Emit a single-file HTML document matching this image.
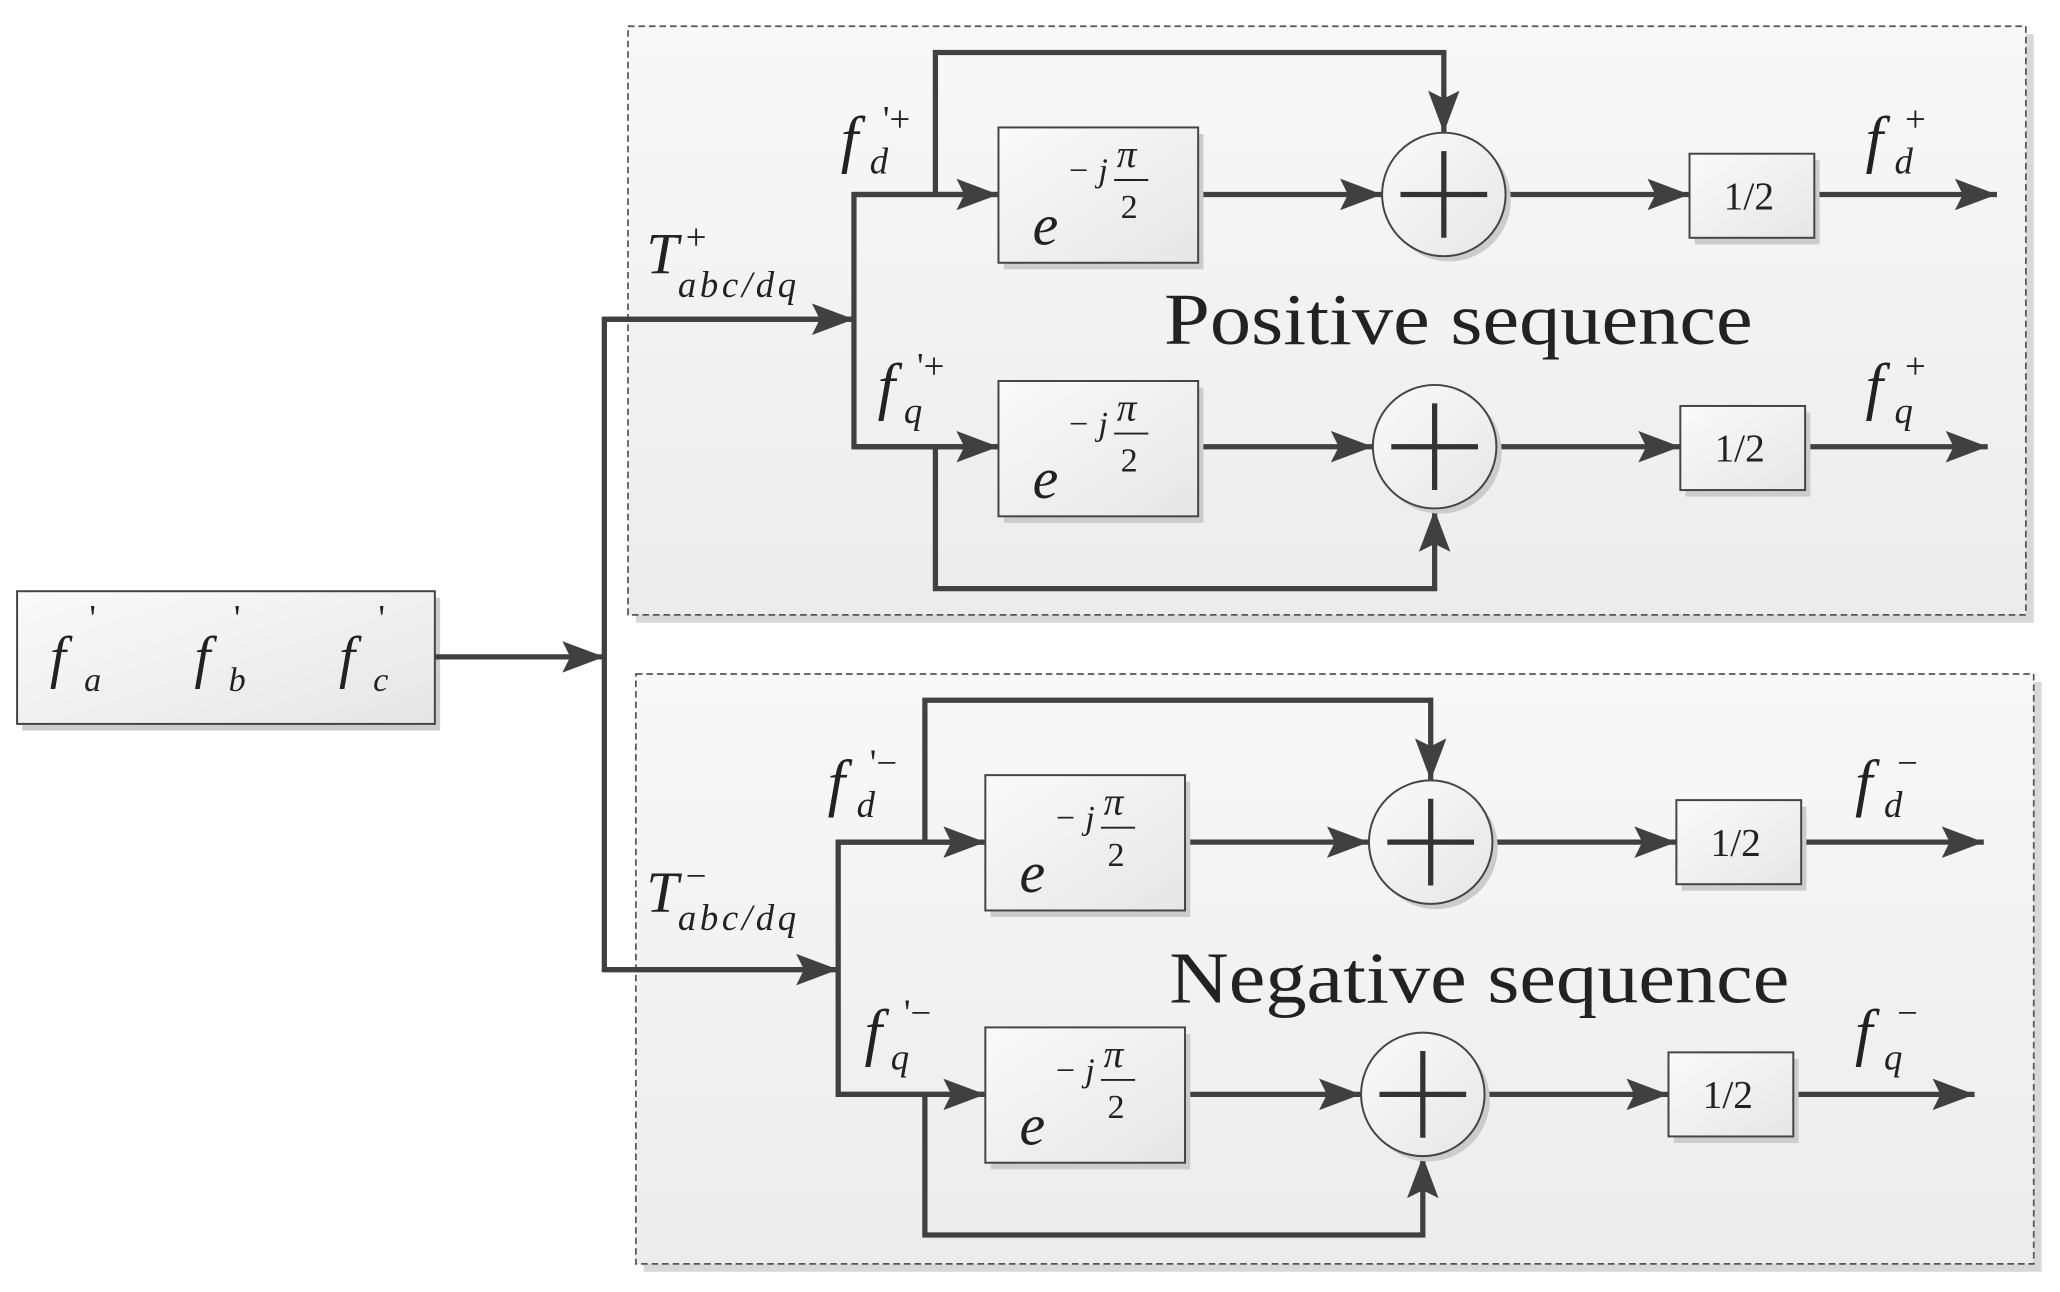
<!DOCTYPE html>
<html><head><meta charset="utf-8"><style>
html,body{margin:0;padding:0;background:#fff}
svg{display:block}
text{font-family:"Liberation Serif",serif;fill:#222}
.i{font-style:italic}
</style></head><body>
<svg width="2060" height="1292" viewBox="0 0 1568 983.4" preserveAspectRatio="none" xmlns="http://www.w3.org/2000/svg">
<defs>
<linearGradient id="g" x1="0" y1="0" x2="1" y2="1"><stop offset="0" stop-color="#fafafa"/><stop offset="1" stop-color="#e6e6e6"/></linearGradient>
<linearGradient id="gb" x1="0" y1="0" x2="0" y2="1"><stop offset="0" stop-color="#f8f8f8"/><stop offset="1" stop-color="#ececec"/></linearGradient>
<marker id="a" viewBox="0 0 32 24" refX="32" refY="12" markerWidth="32" markerHeight="24" markerUnits="userSpaceOnUse" orient="auto"><path d="M0,0 L32,12 L0,24 L6,12 Z" fill="#404040"/></marker>
</defs>
<rect x="484" y="26" width="1064" height="448" fill="#d8d8d8"/>
<rect x="478" y="20" width="1064" height="448" fill="url(#gb)" stroke="#555" stroke-width="1.3" stroke-dasharray="5,3"/>
<rect x="490" y="519" width="1064" height="449" fill="#d8d8d8"/>
<rect x="484" y="513" width="1064" height="449" fill="url(#gb)" stroke="#555" stroke-width="1.3" stroke-dasharray="5,3"/>
<rect x="17" y="455" width="318" height="101" fill="#ccc"/>
<rect x="13" y="450" width="318" height="101" fill="url(#g)" stroke="#444" stroke-width="1.5"/>
<text class="i" font-size="44" x="38" y="515">f</text><text class="i" font-size="26" x="64" y="526">a</text><text font-size="28" x="68" y="480">'</text>
<text class="i" font-size="44" x="148" y="515">f</text><text class="i" font-size="26" x="174" y="526">b</text><text font-size="28" x="178" y="480">'</text>
<text class="i" font-size="44" x="258" y="515">f</text><text class="i" font-size="26" x="284" y="526">c</text><text font-size="28" x="288" y="480">'</text>
<g stroke="#404040" stroke-width="4" fill="none">
<line x1="331" y1="500" x2="460" y2="500" marker-end="url(#a)"/>
<polyline points="650,243 460,243 460,738 638,738" />
<line x1="460" y1="243" x2="650" y2="243" marker-end="url(#a)"/>
<line x1="460" y1="738" x2="638" y2="738" marker-end="url(#a)"/>
<polyline points="760,148 650,148 650,340 760,340"/>
<line x1="650" y1="148" x2="760" y2="148" marker-end="url(#a)"/>
<line x1="650" y1="340" x2="760" y2="340" marker-end="url(#a)"/>
<polyline points="712,148 712,40 1099,40 1099,101" marker-end="url(#a)"/>
<polyline points="712,340 712,448 1092,448 1092,388" marker-end="url(#a)"/>
<line x1="912" y1="148" x2="1052" y2="148" marker-end="url(#a)"/>
<line x1="1146" y1="148" x2="1286" y2="148" marker-end="url(#a)"/>
<line x1="1381" y1="148" x2="1520" y2="148" marker-end="url(#a)"/>
<line x1="912" y1="340" x2="1045" y2="340" marker-end="url(#a)"/>
<line x1="1139" y1="340" x2="1279" y2="340" marker-end="url(#a)"/>
<line x1="1374" y1="340" x2="1513" y2="340" marker-end="url(#a)"/>
<polyline points="750,641 638,641 638,833 750,833"/>
<line x1="638" y1="641" x2="750" y2="641" marker-end="url(#a)"/>
<line x1="638" y1="833" x2="750" y2="833" marker-end="url(#a)"/>
<polyline points="704,641 704,533 1089,533 1089,594" marker-end="url(#a)"/>
<polyline points="704,833 704,940 1083,940 1083,880" marker-end="url(#a)"/>
<line x1="903" y1="641" x2="1042" y2="641" marker-end="url(#a)"/>
<line x1="1136" y1="641" x2="1276" y2="641" marker-end="url(#a)"/>
<line x1="1371" y1="641" x2="1510" y2="641" marker-end="url(#a)"/>
<line x1="903" y1="833" x2="1036" y2="833" marker-end="url(#a)"/>
<line x1="1130" y1="833" x2="1270" y2="833" marker-end="url(#a)"/>
<line x1="1365" y1="833" x2="1503" y2="833" marker-end="url(#a)"/>
</g>
<g id="eb">
<rect x="764" y="102" width="152" height="103" fill="#ccc"/>
<rect x="760" y="97" width="152" height="103" fill="url(#g)" stroke="#444" stroke-width="1.5"/>
<text class="i" font-size="44" x="786" y="186">e</text>
<text class="i" font-size="26" x="812" y="138">− j</text>
<text class="i" font-size="30" x="850" y="127">π</text>
<line x1="848" y1="137" x2="874" y2="137" stroke="#222" stroke-width="1.5"/>
<text font-size="26" x="853" y="166">2</text>
</g>
<use href="#eb" x="0" y="193"/>
<use href="#eb" x="-10" y="493"/>
<use href="#eb" x="-10" y="685"/>
<g id="sm" fill="url(#g)" stroke="#444" stroke-width="1.5">
<circle cx="1103" cy="152" r="47" fill="#ccc" stroke="none"/>
<circle cx="1099" cy="148" r="47"/>
<path d="M1066,148 H1132 M1099,115 V181" stroke="#333" stroke-width="4"/>
</g>
<use href="#sm" x="-7" y="192"/>
<use href="#sm" x="-10" y="493"/>
<use href="#sm" x="-16" y="685"/>
<g id="hf">
<rect x="1290" y="122" width="95" height="64" fill="#ccc"/>
<rect x="1286" y="117" width="95" height="64" fill="url(#g)" stroke="#444" stroke-width="1.5"/>
<text font-size="30" x="1312" y="159">1/2</text>
</g>
<use href="#hf" x="-7" y="192"/>
<use href="#hf" x="-10" y="492"/>
<use href="#hf" x="-16" y="684"/>
<text font-size="56" x="886" y="262" textLength="448" lengthAdjust="spacingAndGlyphs">Positive sequence</text>
<text font-size="56" x="890" y="763" textLength="472" lengthAdjust="spacingAndGlyphs">Negative sequence</text>
<text class="i" font-size="44" x="492" y="208">T</text><text font-size="28" x="522" y="190">+</text><text class="i" font-size="28" x="516" y="226" textLength="90">abc/dq</text>
<text class="i" font-size="44" x="492" y="694">T</text><text font-size="28" x="522" y="676">−</text><text class="i" font-size="28" x="516" y="708" textLength="90">abc/dq</text>
<text class="i" font-size="48" x="640" y="122">f</text><text class="i" font-size="28" x="662" y="132">d</text><text font-size="28" x="672" y="100">'+</text>
<text class="i" font-size="48" x="668" y="310">f</text><text class="i" font-size="28" x="688" y="322">q</text><text font-size="28" x="698" y="288">'+</text>
<text class="i" font-size="48" x="630" y="612">f</text><text class="i" font-size="28" x="652" y="622">d</text><text font-size="28" x="662" y="590">'−</text>
<text class="i" font-size="48" x="658" y="802">f</text><text class="i" font-size="28" x="678" y="814">q</text><text font-size="28" x="688" y="780">'−</text>
<text class="i" font-size="48" x="1420" y="122">f</text><text class="i" font-size="28" x="1442" y="132">d</text><text font-size="28" x="1450" y="100">+</text>
<text class="i" font-size="48" x="1420" y="310">f</text><text class="i" font-size="28" x="1442" y="322">q</text><text font-size="28" x="1450" y="288">+</text>
<text class="i" font-size="48" x="1412" y="612">f</text><text class="i" font-size="28" x="1434" y="622">d</text><text font-size="28" x="1444" y="590">−</text>
<text class="i" font-size="48" x="1412" y="802">f</text><text class="i" font-size="28" x="1434" y="814">q</text><text font-size="28" x="1444" y="780">−</text>
</svg>
</body></html>
